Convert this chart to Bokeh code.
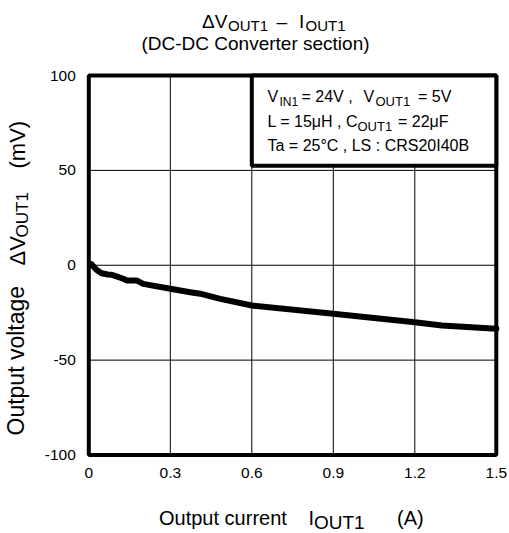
import math
from bokeh.plotting import figure
from bokeh.models import Label, BoxAnnotation, FixedTicker, ColumnDataSource
from bokeh.embed import file_html
from bokeh.resources import INLINE

# ---- data ----
iout = [0.010, 0.028, 0.047, 0.070, 0.084, 0.102, 0.127, 0.139, 0.176, 0.200,
        0.300, 0.373, 0.410, 0.484, 0.600, 0.900, 1.200, 1.300, 1.500]
dvout = [0.5, -2.4, -4.2, -4.9, -5.0, -5.9, -7.1, -8.0, -8.0, -9.8,
         -12.4, -14.2, -15.0, -17.7, -21.2, -25.6, -30.0, -31.8, -33.5]
x_ticks = [0, 0.3, 0.6, 0.9, 1.2, 1.5]
x_tick_labels = ["0", "0.3", "0.6", "0.9", "1.2", "1.5"]
y_ticks = [-100, -50, 0, 50, 100]
y_tick_labels = ["-100", "-50", "0", "50", "100"]

FONT = "Liberation Sans"
W, H = 509, 533
# plot box in canvas pixels
BX0, BX1, BY0, BY1 = 88.3, 495.8, 75.0, 454.5   # left, right, top, bottom
xs = (BX1 - BX0) / (x_ticks[-1] - x_ticks[0])
ys = (BY1 - BY0) / (y_ticks[-1] - y_ticks[0])
x_range = (x_ticks[0] - BX0 / xs, x_ticks[-1] + (W - BX1) / xs)
y_range = (y_ticks[0] - (H - BY1) / ys, y_ticks[-1] + BY0 / ys)

p = figure(width=W, height=H, output_backend="svg", toolbar_location=None,
           x_range=x_range, y_range=y_range,
           min_border_left=0, min_border_right=0, min_border_top=0, min_border_bottom=0)
p.background_fill_color = "white"
p.border_fill_color = "white"
p.outline_line_color = None
p.xgrid.visible = False
p.ygrid.visible = False

for ax in (p.xaxis[0], p.yaxis[0]):
    ax.axis_line_color = None
    ax.major_tick_line_color = None
    ax.minor_tick_line_color = None
    ax.major_tick_out = 0
    ax.major_tick_in = 0
    ax.minor_tick_out = 0
    ax.major_label_text_font = FONT
    ax.major_label_text_font_size = "15.5px"
    ax.major_label_text_color = "black"

p.xaxis[0].ticker = FixedTicker(ticks=x_ticks)
p.xaxis[0].major_label_overrides = {t: l for t, l in zip(x_ticks, x_tick_labels)}
p.xaxis[0].major_label_standoff = 13
p.xaxis[0].fixed_location = y_ticks[0]
p.yaxis[0].ticker = FixedTicker(ticks=y_ticks)
p.yaxis[0].major_label_overrides = {t: l for t, l in zip(y_ticks, y_tick_labels)}
p.yaxis[0].major_label_standoff = 13
p.yaxis[0].fixed_location = x_ticks[0]

# grid lines (inside the plot box only)
vx = x_ticks[1:-1]
p.segment(x0=vx, x1=vx, y0=[y_ticks[0]] * len(vx), y1=[y_ticks[-1]] * len(vx),
          line_color="black", line_width=1)
hy = y_ticks[1:-1]
p.segment(x0=[x_ticks[0]] * len(hy), x1=[x_ticks[-1]] * len(hy), y0=hy, y1=hy,
          line_color="black", line_width=1)

src = ColumnDataSource(dict(x=iout, y=dvout))
p.line("x", "y", source=src, line_color="black", line_width=6,
       line_join="round", line_cap="round")

# plot box border
p.add_layout(BoxAnnotation(left=x_ticks[0], right=x_ticks[-1], bottom=y_ticks[0], top=y_ticks[-1],
                           fill_alpha=0, line_color="black", line_width=4, line_alpha=1))
# condition box
p.add_layout(BoxAnnotation(left=0.6, right=1.5, bottom=52.5, top=100,
                           fill_color="white", fill_alpha=1,
                           line_color="black", line_width=4, line_alpha=1))

SHIFT = 0.33  # empirical baseline correction (fraction of font size)


def txt(s, px, py, size, align="left"):
    p.add_layout(Label(x=px, y=H - (py - SHIFT * size), x_units="screen", y_units="screen",
                       text=s, text_font=FONT, text_font_size=f"{size}px",
                       text_color="black", text_baseline="alphabetic",
                       text_align=align))


def vtxt(s, px, py, size):
    p.add_layout(Label(x=px - SHIFT * size, y=H - py, x_units="screen", y_units="screen",
                       text=s, text_font=FONT, text_font_size=f"{size}px",
                       text_color="black", text_baseline="alphabetic",
                       text_align="left", angle=math.pi / 2))


# title
txt("\u0394V", 201.5, 27, 19)
txt("OUT1", 227.5, 30, 15)
txt("\u2013", 276, 27, 19)
txt("I", 298.5, 27, 19)
txt("OUT1", 305, 30, 15)
txt("(DC-DC Converter section)", 255, 49.5, 19, align="center")

# legend text
txt("V", 267, 101.5, 16)
txt("IN1", 279, 105, 12)
txt("= 24V ,", 301, 101.5, 16)
txt("V", 363, 101.5, 16)
txt("OUT1", 375, 105, 13)
txt("= 5V", 417.5, 101.5, 16)
txt("L = 15\u03bcH , C", 267, 126.5, 16)
txt("OUT1", 357, 130, 13)
txt("= 22\u03bcF", 397.5, 126.5, 16)
txt("Ta = 25\u00b0C , LS : CRS20I40B", 267, 150, 16)

# x-axis title
txt("Output current", 158.5, 524.5, 20)
txt("I", 308, 524.5, 20)
txt("OUT1", 313.5, 528.5, 19)
txt("(A)", 396.5, 524.5, 20)

# y-axis title (rotated, reading upward)
vtxt("Output voltage", 23, 435, 23)
vtxt("\u0394V", 24, 265, 22)
vtxt("OUT1", 28, 237, 17)
vtxt("(mV)", 24, 168, 22)

open("out.html", "w").write(file_html(p, INLINE))
